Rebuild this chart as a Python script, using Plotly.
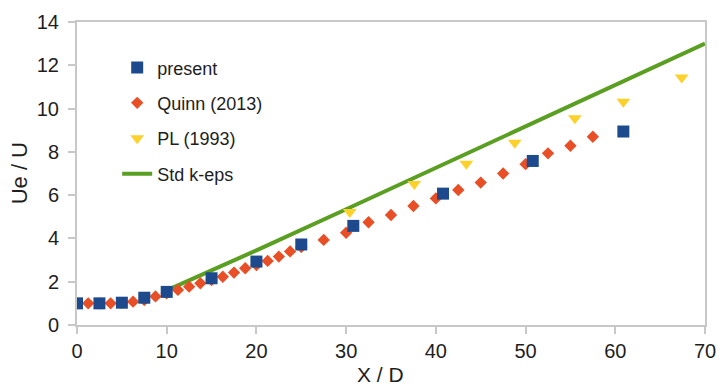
import plotly.graph_objects as go

present_x = [0, 2.5, 5, 7.5, 10, 15, 20, 25, 30.8, 40.8, 50.8, 60.9]
present_y = [1.0, 1.0, 1.03, 1.26, 1.53, 2.16, 2.93, 3.72, 4.58, 6.07, 7.58, 8.94]

quinn_x = [0, 1.25, 2.5, 3.75, 5, 6.25, 7.5, 8.75, 10, 11.25, 12.5, 13.75, 15, 16.25,
           17.5, 18.75, 20, 21.25, 22.5, 23.75, 25, 27.5, 30, 32.5, 35, 37.5, 40, 42.5,
           45, 47.5, 50, 52.5, 55, 57.5]
quinn_y = [1.0, 1.0, 1.0, 1.0, 1.02, 1.08, 1.15, 1.32, 1.46, 1.62, 1.77, 1.93, 2.08, 2.23,
           2.42, 2.62, 2.77, 2.96, 3.16, 3.4, 3.6, 3.93, 4.26, 4.75, 5.08, 5.5, 5.85, 6.24,
           6.58, 7.0, 7.43, 7.93, 8.28, 8.7]

pl_x = [30.4, 37.6, 43.4, 48.8, 55.5, 60.9, 67.4]
pl_y = [5.22, 6.52, 7.45, 8.42, 9.55, 10.32, 11.43]

keps_x = [10, 15, 20, 30, 40, 50, 60, 70]
keps_y = [1.6, 2.5, 3.45, 5.35, 7.25, 9.15, 11.05, 13.0]

x_ticks = [0, 10, 20, 30, 40, 50, 60, 70]
y_ticks = [0, 2, 4, 6, 8, 10, 12, 14]

FONT = "Liberation Sans, Arial, sans-serif"
TXT = "#1e1e1e"
AX = "#c8c8c8"

fig = go.Figure()
fig.add_trace(go.Scatter(x=keps_x, y=keps_y, mode="lines", name="Std k-eps",
                         line=dict(color="#5b9f22", width=4), legendrank=4, legendgroup="d"))
fig.add_trace(go.Scatter(x=quinn_x, y=quinn_y, mode="markers", name="Quinn (2013)",
                         marker=dict(symbol="diamond", size=9.5, color="#e94f27"),
                         legendrank=2, legendgroup="b"))
fig.add_trace(go.Scatter(x=pl_x, y=pl_y, mode="markers", name="PL (1993)",
                         marker=dict(symbol="triangle-down", size=12, color="#fdd12b"),
                         legendrank=3, legendgroup="c"))
fig.add_trace(go.Scatter(x=present_x, y=present_y, mode="markers", name="present",
                         marker=dict(symbol="square", size=12, color="#1d4a8c",
                                     line=dict(width=0)),
                         legendrank=1, legendgroup="a"))

axis_common = dict(showline=True, linecolor=AX, linewidth=2, mirror=True,
                   ticks="outside", ticklen=7, tickcolor=AX, tickwidth=2,
                   showgrid=False, zeroline=False, automargin=False,
                   tickfont=dict(family=FONT, size=20, color=TXT))

fig.update_layout(
    width=719, height=385,
    margin=dict(l=77, r=14, t=22, b=60),
    paper_bgcolor="white", plot_bgcolor="white",
    xaxis=dict(range=[0, 70], tickvals=x_ticks, ticklabelstandoff=0, **axis_common),
    yaxis=dict(range=[0, 14], tickvals=y_ticks, ticklabelstandoff=5, **axis_common),
    legend=dict(x=0.064, y=0.91, xanchor="left", yanchor="top",
                bgcolor="rgba(0,0,0,0)", traceorder="grouped", tracegroupgap=9,
                font=dict(family=FONT, size=18, color=TXT)),
    showlegend=True,
    annotations=[
        dict(text="X / D", xref="paper", yref="paper", x=0.484, y=-0.162,
             xanchor="center", yanchor="middle", showarrow=False,
             font=dict(family=FONT, size=21, color=TXT)),
        dict(text="Ue / U", xref="paper", yref="paper", x=-0.091, y=0.5,
             xanchor="center", yanchor="middle", textangle=-90, showarrow=False,
             font=dict(family=FONT, size=22, color=TXT)),
    ],
)

fig.write_html("out.html")
